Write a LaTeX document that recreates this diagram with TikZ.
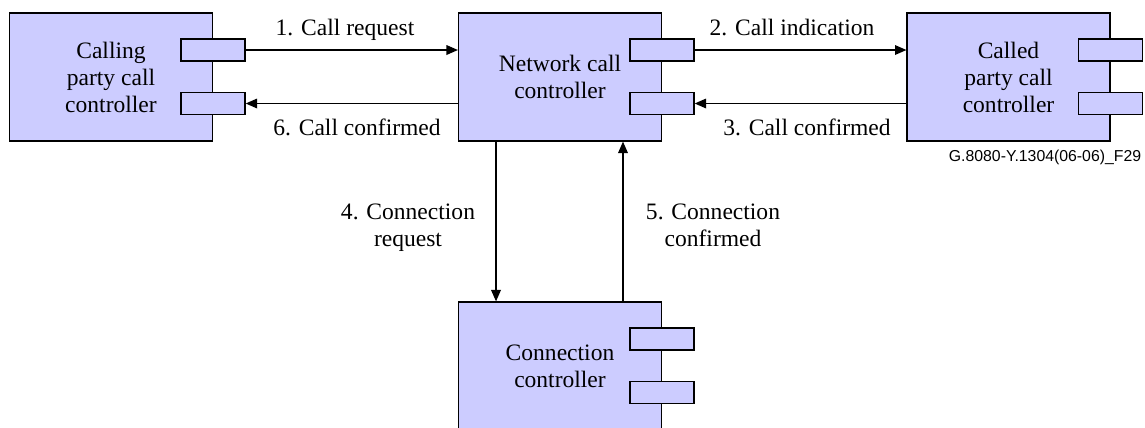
\documentclass[tikz,border=0pt]{standalone}
\usepackage{fontspec}
\setmainfont{Liberation Serif}
\setsansfont{Liberation Sans}
\usetikzlibrary{arrows.meta,positioning}
\definecolor{ctrlfill}{RGB}{204,204,255}
\tikzset{
  ctrl/.style={ draw, fill=ctrlfill, line width=0.7pt, minimum width=4.06cm, minimum height=2.56cm, align=center, font=\fontsize{13.4}{15.4}\selectfont }
}
\tikzset{
  port/.style={ draw, fill=ctrlfill, line width=0.7pt, minimum width=1.28cm, minimum height=0.44cm, inner sep=0pt }
}
\tikzset{
  msg/.style={ align=center, font=\fontsize{13.4}{15.4}\selectfont }
}
\tikzset{
  flow/.style={ -{Triangle[length=6.5pt, width=5.5pt]}, line width=0.7pt }
}

\begin{document}
\begin{tikzpicture}[x=0.02cm, y=-0.02cm]
        \useasboundingbox (0,0) rectangle (1145,427);
        \node[ctrl] (caller) at (111, 77) {Calling\\party call\\controller};
        \node[ctrl] (ncc) at (560, 77) {Network call\\controller};
        \node[ctrl] (called) at (1008.5, 77) {Called\\party call\\controller};
        \node[ctrl] (cc) at (560, 366) {Connection\\controller};
        \foreach \b in {caller, ncc, called, cc} {
          \node[port] (\b-up) at ([yshift=0.54cm]\b.east) {};
          \node[port] (\b-dn) at ([yshift=-0.53cm]\b.east) {};
        }
        \draw[flow] (caller-up.east) -- (caller-up.east -| ncc.west);
        \draw[flow] (ncc.west |- caller-dn.east) -- (caller-dn.east);
        \draw[flow] (ncc-up.east) -- (ncc-up.east -| called.west);
        \draw[flow] (called.west |- ncc-dn.east) -- (ncc-dn.east);
        \draw[flow] ([xshift=-1.28cm]ncc.south) -- ([xshift=-1.28cm]cc.north);
        \draw[flow] ([xshift=1.26cm]cc.north) -- ([xshift=1.26cm]ncc.south);
        \node[msg] (m1) at (345, 30) {1. Call request};
        \node[msg] (m2) at (792, 27) {2. Call indication};
        \node[msg] (m3) at (807, 127) {3. Call confirmed};
        \node[msg] (m4) at (408, 228) {4. Connection\\request};
        \node[msg] (m5) at (713, 225) {5. Connection\\confirmed};
        \node[msg] (m6) at (357, 127) {6. Call confirmed};
        \node[font=\sffamily\fontsize{9}{11}\selectfont] (fig) at (1045, 157) {G.8080-Y.1304(06-06)\_F29};
      \end{tikzpicture}
\end{document}
